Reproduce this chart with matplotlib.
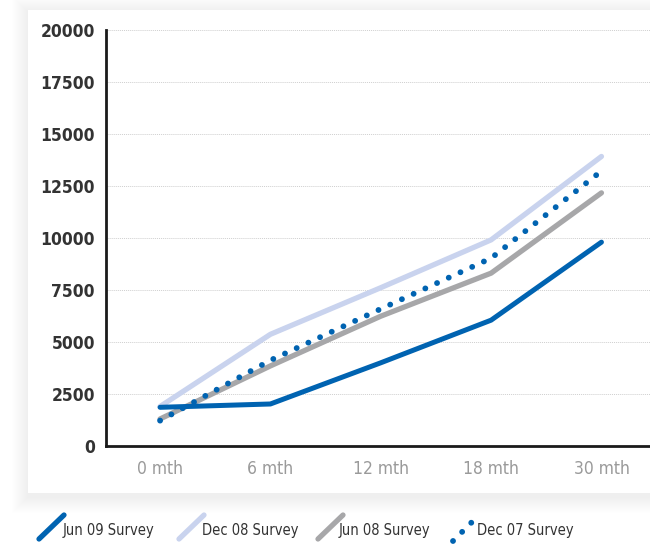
import matplotlib
matplotlib.use("Agg")
import matplotlib.pyplot as plt
from matplotlib.patches import Rectangle
from matplotlib.lines import Line2D

plt.rcParams['font.family'] = ['Liberation Sans Narrow', 'DejaVu Sans']
plt.rcParams['font.stretch'] = 'condensed'

periods = ['0 mth', '6 mth', '12 mth', '18 mth', '30 mth']
jun09 = [1860, 2020, 4000, 6050, 9800]
dec08 = [1900, 5370, 7610, 9910, 13920]
jun08 = [1300, 3850, 6240, 8310, 12170]
dec07 = [1220, 4120, 6590, 9030, 13220]
yticks = [0, 2500, 5000, 7500, 10000, 12500, 15000, 17500, 20000]

blue = '#0063b1'
light = '#c9d3ee'
grey = '#a7a7a9'
dotted = (0, (0.01, 2.2))

W, H = 650, 546
fig = plt.figure(figsize=(W / 100, H / 100), dpi=100)
fig.patch.set_facecolor('white')


def fx(px):
    return px / W


def fy(py):
    return 1 - py / H


# soft shadow behind the white card
for i in range(16, 0, -1):
    sh = Rectangle((fx(28 - i), fy(493 + i + 4)), fx(700), fy(10 - i + 2) - fy(493 + i + 4),
                   transform=fig.transFigure, facecolor='black', edgecolor='none',
                   alpha=0.0035, zorder=0)
    fig.patches.append(sh)
card = Rectangle((fx(28), fy(493)), fx(700), fy(10) - fy(493), transform=fig.transFigure,
                 facecolor='white', edgecolor='none', zorder=1)
fig.patches.append(card)

ax = fig.add_axes([fx(106), fy(446), 1 - fx(106), fy(30) - fy(446)])
ax.set_zorder(5)
ax.set_facecolor('none')
x = range(len(periods))

ax.plot(x, dec08, color=light, lw=3.8, solid_capstyle='round', zorder=3)
ax.plot(x, jun08, color=grey, lw=3.8, solid_capstyle='round', zorder=4)
ax.plot(x, dec07, color=blue, lw=4.2, linestyle=dotted, dash_capstyle='round', zorder=5)
ax.plot(x, jun09, color=blue, lw=3.6, solid_capstyle='round', zorder=6)

ax.set_xlim(-0.49, 4.44)
ax.set_ylim(0, 20000)
ax.set_yticks(yticks)
ax.set_yticklabels([str(v) for v in yticks], fontsize=12.5, fontweight='bold', color='#333333')
ax.set_xticks(list(x))
ax.set_xticklabels(periods, fontsize=12.5, color='#9a9a9a')
ax.tick_params(length=0)
ax.tick_params(axis='y', pad=8)
ax.tick_params(axis='x', pad=10)
ax.grid(axis='y', color='#cfcfcf', linestyle=(0, (1, 1)), lw=0.7)
ax.set_axisbelow(True)
for s in ['top', 'right']:
    ax.spines[s].set_visible(False)
for s in ['left', 'bottom']:
    ax.spines[s].set_color('#1a1a1a')
    ax.spines[s].set_linewidth(2)

# legend with slanted handles under the card
entries = [('Jun 09 Survey', blue, '-', 38, 63),
           ('Dec 08 Survey', light, '-', 178, 202),
           ('Jun 08 Survey', grey, '-', 317, 339),
           ('Dec 07 Survey', blue, ':', 453, 477)]
for label, col, ls, hx, tx in entries:
    if ls == '-':
        ln = Line2D([fx(hx + 1), fx(hx + 26)], [fy(539), fy(515)], transform=fig.transFigure,
                    color=col, lw=3.8, solid_capstyle='round')
    else:
        ln = Line2D([fx(hx), fx(hx + 25)], [fy(541), fy(516)], transform=fig.transFigure,
                    color=col, lw=4.2, linestyle=dotted, dash_capstyle='round')
    fig.lines.append(ln)
    fig.text(fx(tx), fy(531), label, fontsize=10.5, color='#333333', va='center')

fig.savefig('out.png', dpi=100)
